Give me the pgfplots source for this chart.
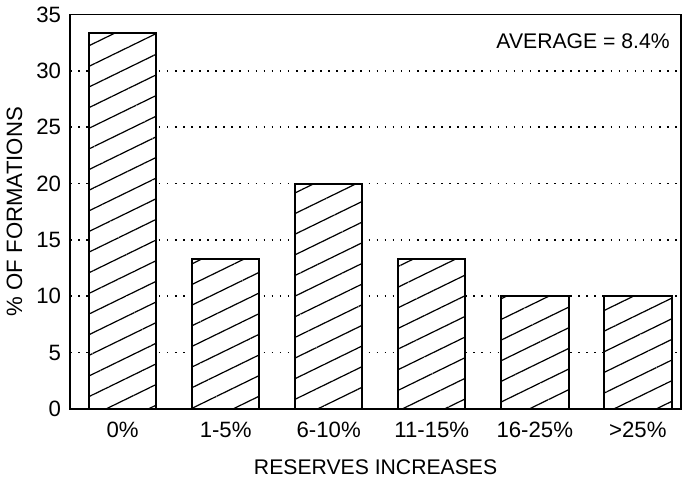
\documentclass[border=0pt]{standalone}
\usepackage{pgfplots}
\pgfplotsset{compat=1.18}
\usepackage{fontspec}
\setmainfont{Liberation Sans}
\usetikzlibrary{patterns.meta}
\begin{document}
\begin{tikzpicture}
\begin{axis}[
  scale only axis,
  width=303pt, height=195.5pt,
  xmin=-0.51, xmax=5.42,
  ymin=0, ymax=35,
  ytick={0,5,...,35},
  xtick={0,1,2,3,4,5},
  xticklabels={0\%,1-5\%,6-10\%,11-15\%,16-25\%,>25\%},
  major tick length=0pt,
  tick style={draw=none},
  ymajorgrids,
  major grid style={black, line width=0.9pt, dash pattern=on 0.8pt off 3.2pt},
  axis line style={line width=0.9pt},
  font=\fontsize{11}{13}\selectfont,
  ticklabel style={font=\fontsize{11}{13}\selectfont},
  /pgf/number format/assume math mode=true,
  xticklabel style={yshift=-3pt},
  yticklabel style={xshift=-1pt},
  xlabel={RESERVES INCREASES},
  ylabel={\% OF FORMATIONS},
  xlabel style={yshift=-4pt, font=\fontsize{10.5}{12}\selectfont},
  ylabel style={yshift=0pt},
  clip=false,
]
\addplot[ybar, bar width=0.655, draw=black, line width=1pt, fill=white,
  postaction={pattern={Lines[angle=26, distance=9.2pt, line width=0.6pt]}}]
  coordinates {(0,33.33) (1,13.33) (2,20) (3,13.33) (4,10) (5,10)};
\node[anchor=east, font=\fontsize{10.5}{12}\selectfont] at (rel axis cs:0.993,0.933) {AVERAGE = 8.4\%};
\end{axis}
\end{tikzpicture}
\end{document}
